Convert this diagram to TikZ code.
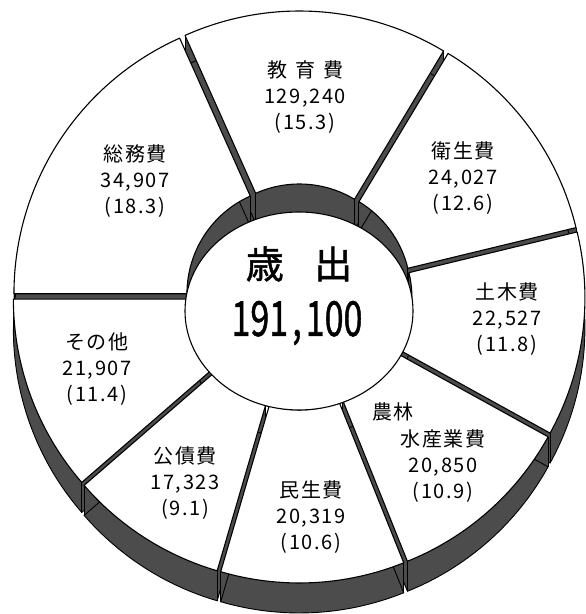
\documentclass[tikz,border=0pt]{standalone}
\usepackage{fontspec}
\setmainfont{Noto Sans CJK JP}
\newfontfamily\lblfont{Noto Sans CJK JP}[LetterSpace=8]
\newfontfamily\bigfont{Noto Sans CJK JP}[FakeBold=1.2]
\usetikzlibrary{calc}
\newcommand{\piece}[3]{($(o)+(#1:280pt)+(0,#3)$) arc[start angle=#1,end angle=#2,radius=280pt] -- ($(o)+(#2:107pt)+(0,#3)$) arc[start angle=#2,end angle=#1,radius=107pt] -- cycle}
\begin{document}
\begin{tikzpicture}[x=1pt,y=1pt,
  face/.style={fill=white,draw=black,line width=1.1pt,line join=round},
  wall/.style={fill=black!70},
  edge/.style={draw=black,line width=0.9pt},
  lbl/.style={font=\lblfont\fontsize{20}{26}\selectfont,align=center,inner sep=0pt}]
\useasboundingbox (0,0) rectangle (586,614);
\coordinate (C) at (299,317);
\fill[wall] (C) circle[radius=114pt];
% pieces, back to front
\foreach \a/\b in {114.1/59.0,59.0/13.6,180/114.1,13.6/-28.9,-139.1/-180,-28.9/-68.1,-106.3/-139.1,-68.1/-106.3}{
  \coordinate (o) at ($(C)+({(\a+\b)/2}:6pt)$);
  \foreach \s in {0,...,29} \fill[wall] \piece{\a}{\b}{-\s};
  \filldraw[wall,edge] \piece{\a}{\b}{-30};
  \draw[edge] ($(o)+(\a:280pt)$) -- ++(0,-30) ($(o)+(\b:280pt)$) -- ++(0,-30)
    ($(o)+(\a:107pt)$) -- ++(0,-30) ($(o)+(\b:107pt)$) -- ++(0,-30);
  \path[face] \piece{\a}{\b}{0};
}
\filldraw[fill=white,draw=black,line width=1.1pt] (299,303) ellipse[x radius=114pt,y radius=99pt];
% labels
\node[lbl] (kyoiku) at (305,517) {教\hspace{0.4em}育\hspace{0.4em}費\\129,240\\(15.3)};
\node[lbl] (eisei) at (463,436) {衛生費\\24,027\\(12.6)};
\node[lbl] (doboku) at (507,295) {土木費\\22,527\\(11.8)};
\node[lbl] (norin1) at (393,202) {農林};
\node[lbl] (norin) at (443,148) {水産業費\\20,850\\(10.9)};
\node[lbl] (minsei) at (311,97) {民生費\\20,319\\(10.6)};
\node[lbl] (kosai) at (185,131) {公債費\\17,323\\(9.1)};
\node[lbl] (sonota) at (97,245) {その他\\21,907\\(11.4)};
\node[lbl] (somu) at (135,433) {総務費\\34,907\\(18.3)};
\node[inner sep=0pt] (sai) at (299,350) {\bigfont\fontsize{38}{38}\selectfont 歳\hspace{0.8em}出};
\node[inner sep=0pt] (total) at (297,291) {\scalebox{0.74}[1.05]{\bigfont\fontsize{46}{46}\selectfont 191\hspace{0.12em},\hspace{0.12em}100}};
\end{tikzpicture}
\end{document}
